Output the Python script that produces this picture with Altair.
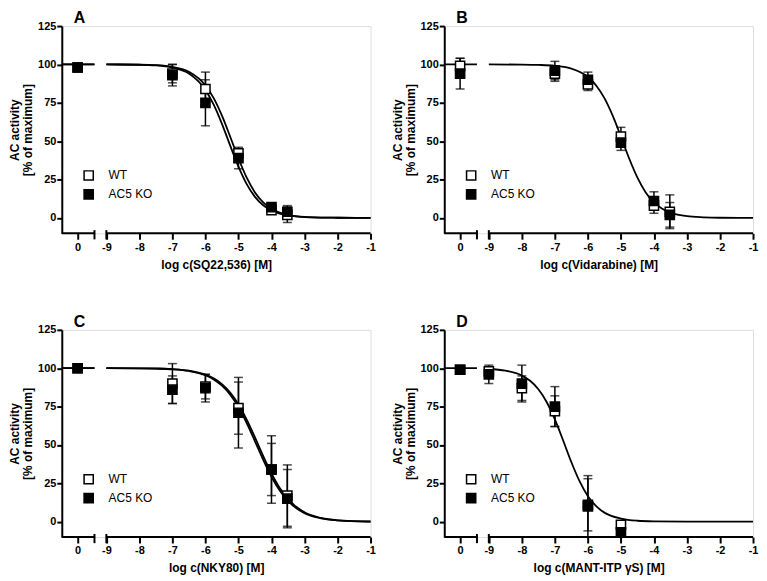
import altair as alt
import pandas as pd

# ---------------- broken-axis geometry (positions on the log scale) -------------
X_AXIS_LEFT = -10.35   # where the y axis sits
X_CTRL = -9.87         # where the "0" (no inhibitor) control is drawn
X_BREAK_L = -9.36      # end of the first axis segment
X_BREAK_R = -9.0       # start of the second axis segment
X_RIGHT = -1.0
Y_MIN, Y_MAX = -10, 125
FONT = "Liberation Sans"

SERIES = ["WT", "AC5 KO"]

# ---------------- Panel A : SQ22,536 ----------------
A_title = "log c(SQ22,536) [M]"
A_x = [0, -7, -6, -5, -4, -3.52]
A_wt = [98, 94, 84, 42, 5, 2]
A_wt_err = [0, 6, 11, 3, 1.5, 5]
A_ko = [98, 93, 75, 39, 7, 4]
A_ko_err = [0, 7, 15, 7, 2, 4]

# ---------------- Panel B : Vidarabine ----------------
B_title = "log c(Vidarabine) [M]"
B_x = [0, -7, -6, -5, -4, -3.52]
B_wt = [99, 94, 87, 53, 8, 4]
B_wt_err = [5, 5, 4, 6, 5, 11]
B_ko = [94, 96, 90, 49, 11, 2]
B_ko_err = [10, 6, 5, 5, 6, 8]

# ---------------- Panel C : NKY80 ----------------
C_title = "log c(NKY80) [M]"
C_x = [0, -7, -6, -5, -4, -3.52]
C_wt = [100, 90, 88, 74, 34, 17]
C_wt_err = [0, 13, 8, 17, 17, 20]
C_ko = [100, 86, 87, 71, 34, 15]
C_ko_err = [0, 9, 9, 23, 22, 19]

# ---------------- Panel D : MANT-ITPgammaS ----------------
D_title = "log c(MANT-ITP γS) [M]"
D_x = [0, -9, -8, -7, -6, -5]
D_wt = [99, 98, 87, 72, 11, -2]
D_wt_err = [0, 2, 8, 10, 17, 0]
D_ko = [99, 96, 90, 75, 10, -7]
D_ko_err = [0, 6, 12, 13, 20, 0]

# ---------------- fitted curves ----------------
curve_x = [-9, -8, -7.5, -7, -6.5, -6, -5.75, -5.5, -5.25, -5, -4.75, -4.5,
           -4.25, -4, -3.75, -3.5, -3, -2.5, -2, -1]
A_curve_wt = [100, 99.8, 99.5, 98.4, 95.2, 86.3, 78.0, 66.6, 52.9, 38.7, 26.2,
              16.6, 10.1, 5.9, 3.4, 2.0, 0.6, 0.2, 0.1, 0.0]
A_curve_ko = [100, 99.8, 99.4, 98.0, 94.1, 83.4, 73.8, 61.3, 47.1, 33.4, 22.0,
              13.7, 8.2, 4.8, 2.7, 1.6, 0.5, 0.2, 0.1, 0.0]
B_curve = [100, 99.9, 99.7, 99.1, 97.3, 91.8, 86.3, 78.0, 66.6, 52.9, 38.7,
           26.2, 16.6, 10.1, 5.9, 3.4, 1.1, 0.4, 0.1, 0.0]
C_curve_wt = [100, 99.9, 99.8, 99.4, 98.4, 95.8, 93.4, 89.6, 84.1, 76.4, 66.5,
              54.9, 42.7, 31.4, 21.9, 14.7, 6.1, 2.4, 0.9, 0.1]
C_curve_ko = [100, 99.9, 99.7, 99.3, 98.2, 95.4, 92.7, 88.6, 82.7, 74.6, 64.3,
              52.4, 40.3, 29.3, 20.3, 13.5, 5.5, 2.2, 0.8, 0.1]
D_curve_x = [-9, -8.5, -8, -7.75, -7.5, -7.25, -7, -6.75, -6.5, -6.25, -6,
             -5.75, -5.5, -5, -4.5, -4, -3, -2, -1]
D_curve = [99.5, 98.4, 95.2, 91.8, 86.3, 78.0, 66.6, 52.9, 38.7, 26.2, 16.6,
           10.1, 5.9, 2.0, 0.6, 0.2, 0.0, 0.0, 0.0]
CURVE_TOP = 100  # plateau drawn across the first axis segment

W, H = 310, 208

xscale = alt.Scale(domain=[X_AXIS_LEFT, X_RIGHT], nice=False, zero=False)
yscale = alt.Scale(domain=[Y_MIN, Y_MAX], nice=False, zero=False)


def xaxis(title):
    return alt.Axis(
        values=[X_CTRL] + list(range(-9, 0)),
        labelExpr="datum.value < -9.5 ? '0' : '' + datum.value",
        domain=False, grid=False, ticks=True, tickSize=6, tickWidth=2,
        tickColor="black", labelFont=FONT, labelFontSize=11,
        labelFontWeight="bold", labelColor="black", labelPadding=2,
        labelFlush=False, labelOverlap=False,
        title=title, titleFont=FONT, titleFontSize=12, titleFontWeight="bold",
        titleColor="black", titlePadding=7)


yaxis = alt.Axis(
    values=[0, 25, 50, 75, 100, 125], domain=True, domainWidth=2,
    domainColor="black", grid=False, tickSize=5, tickWidth=2,
    tickColor="black", labelFont=FONT, labelFontSize=11,
    labelFontWeight="bold", labelColor="black", labelPadding=1,
    title=["AC activity", "[% of maximum]"], titleFont=FONT,
    titleFontSize=12, titleFontWeight="bold", titleColor="black",
    titlePadding=3, titleLineHeight=13)


def panel(letter, xtitle, xs, wt, wt_err, ko, ko_err, cx, curves):
    X = lambda f: alt.X(f, type="quantitative", scale=xscale, axis=xaxis(xtitle))
    Y = lambda f: alt.Y(f, type="quantitative", scale=yscale, axis=yaxis)

    # points and error bars (WT first, KO drawn on top)
    rows = []
    for name, ys, es in (("WT", wt, wt_err), ("AC5 KO", ko, ko_err)):
        for xv, yv, ev in zip(xs, ys, es):
            rows.append({"x": X_CTRL if xv == 0 else xv, "y": yv,
                         "lo": yv - ev, "hi": yv + ev, "series": name})
    pts = pd.DataFrame(rows)
    err_pts = pts[pts["hi"] > pts["lo"]]
    caps = pd.concat([
        err_pts[["x", "lo"]].rename(columns={"lo": "y"}),
        err_pts[["x", "hi"]].rename(columns={"hi": "y"}),
    ])

    # curves
    crow = []
    for name, vals in curves.items():
        for xv, yv in zip(cx, vals):
            crow.append({"x": xv, "y": yv, "key": name + "-main"})
        crow.append({"x": X_AXIS_LEFT, "y": CURVE_TOP, "key": name + "-first"})
        crow.append({"x": X_BREAK_L, "y": CURVE_TOP, "key": name + "-first"})
    cdf = pd.DataFrame(crow)

    segs = pd.DataFrame({"x": [X_AXIS_LEFT, X_BREAK_R], "x2": [X_BREAK_L, X_RIGHT]})
    brks = pd.DataFrame({"x": [X_BREAK_L, X_BREAK_R]})

    line = alt.Chart(cdf).mark_line(color="black", strokeWidth=1.8,
                                    interpolate="monotone").encode(
        x=X("x"), y=Y("y"), detail="key:N")
    axis_seg = alt.Chart(segs).mark_rule(color="black", strokeWidth=2).encode(
        x=X("x"), x2="x2", y=alt.datum(Y_MIN))
    brk = alt.Chart(brks).mark_rule(color="black", strokeWidth=2).encode(
        x=X("x"), y=alt.datum(-8), y2=alt.datum(-14))
    bars = alt.Chart(err_pts).mark_rule(color="black", strokeWidth=1.5).encode(
        x=X("x"), y=Y("lo"), y2="hi")
    cap = alt.Chart(caps).mark_tick(color="black", orient="horizontal",
                                    size=9, thickness=1.5).encode(
        x=X("x"), y=Y("y"))
    sym = alt.Chart(pts).mark_point(shape="square", filled=True, size=85,
                                    stroke="black", strokeWidth=1.5,
                                    opacity=1).encode(
        x=X("x"), y=Y("y"),
        fill=alt.Fill("series:N",
                      scale=alt.Scale(domain=SERIES, range=["white", "black"]),
                      legend=alt.Legend(
                          orient="none", legendX=21, legendY=144, title=None,
                          symbolType="square", symbolSize=85,
                          symbolStrokeColor="black", symbolStrokeWidth=1.5,
                          symbolOpacity=1, labelFont=FONT, labelFontSize=12,
                          labelColor="black", labelOffset=14, rowPadding=3,
                          padding=0)))
    return alt.layer(line, axis_seg, brk, bars, cap, sym).properties(
        width=W, height=H,
        title=alt.TitleParams(letter, anchor="start", frame="group", dx=12,
                              offset=-6, font=FONT, fontSize=16,
                              fontWeight="bold", color="black"))


pA = panel("A", A_title, A_x, A_wt, A_wt_err, A_ko, A_ko_err, curve_x,
           {"WT": A_curve_wt, "AC5 KO": A_curve_ko})
pB = panel("B", B_title, B_x, B_wt, B_wt_err, B_ko, B_ko_err, curve_x,
           {"WT": B_curve})
pC = panel("C", C_title, C_x, C_wt, C_wt_err, C_ko, C_ko_err, curve_x,
           {"WT": C_curve_wt, "AC5 KO": C_curve_ko})
pD = panel("D", D_title, D_x, D_wt, D_wt_err, D_ko, D_ko_err, D_curve_x,
           {"WT": D_curve})

row1 = alt.hconcat(pA, pB, spacing=14).resolve_scale(fill="independent")
row2 = alt.hconcat(pC, pD, spacing=14).resolve_scale(fill="independent")
chart = alt.vconcat(row1, row2, spacing=42).resolve_scale(
    fill="independent").properties(
    padding={"left": 0, "top": 0, "right": 0, "bottom": 0}
).configure_view(stroke=None).configure(background="white")

chart.save("out.html", embed_options={"renderer": "svg", "actions": False})
